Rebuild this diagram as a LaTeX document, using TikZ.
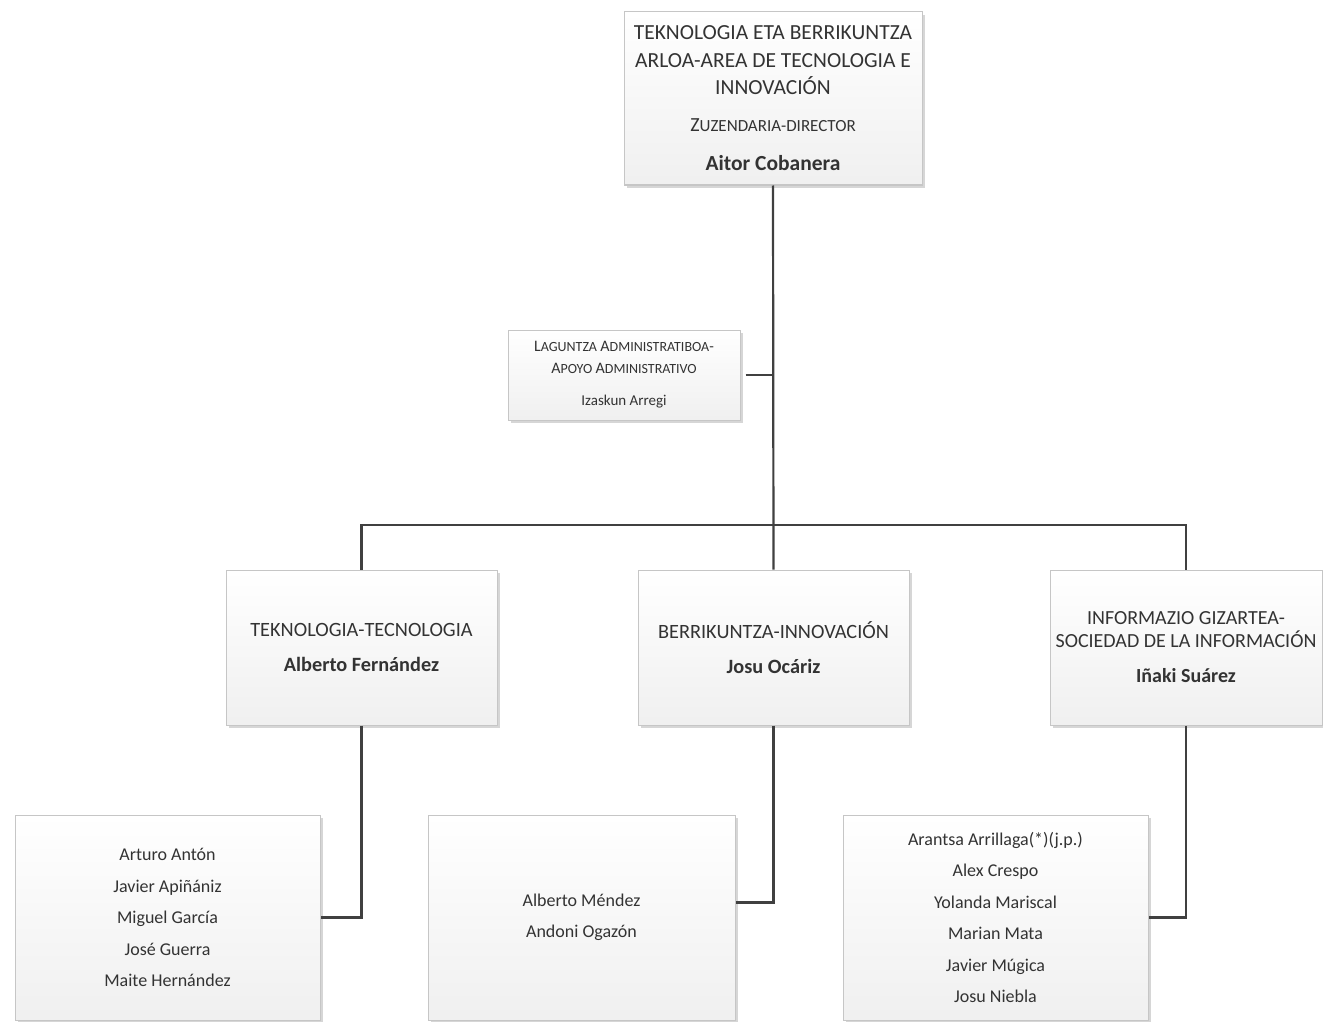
\documentclass[tikz,border=0pt]{standalone}
\usepackage{fontspec}
\setmainfont{Carlito}
\usetikzlibrary{shadows}
% small-caps imitation: #1 size of capital, #2 size of rest, #3 capital, #4 rest
\newcommand\scx[4]{{\fontsize{#1}{#1}\selectfont #3}{\fontsize{#2}{#2}\selectfont #4}}
\tikzset{
  orgbox/.style={draw=gray!45, line width=1pt, top color=white, bottom color=gray!12,
    drop shadow={shadow xshift=3pt, shadow yshift=-3pt, fill=gray!45, opacity=0.7},
    align=center, inner sep=2pt, text=black!80},
  conn/.style={draw=black!75, line width=2.2pt}
}
\begin{document}
\begin{tikzpicture}[x=1pt,y=-1pt]
\useasboundingbox[fill=white] (0,0) rectangle (1323,1022);
\node[orgbox, minimum width=298pt, minimum height=173pt,
  font=\fontsize{21.5}{27.5}\selectfont] (top) at (773,98.5)
  {TEKNOLOGIA ETA BERRIKUNTZA\\ARLOA-AREA DE TECNOLOGIA E\\INNOVACIÓN\\[9pt]
   \scx{20}{17}{Z}{UZENDARIA-DIRECTOR}\\[12pt]
   \textbf{Aitor Cobanera}};
\node[orgbox, minimum width=232pt, minimum height=90pt,
  font=\fontsize{15}{22}\selectfont] (admin) at (624,375)
  {\scx{16}{14}{L}{AGUNTZA} \scx{16}{14}{A}{DMINISTRATIBOA}-\\\scx{16}{14}{A}{POYO} \scx{16}{14}{A}{DMINISTRATIVO}\\[10pt]
   Izaskun Arregi};
\node[orgbox, minimum width=271pt, minimum height=155pt,
  font=\fontsize{20.3}{35}\selectfont] (tek) at (361.5,647.5)
  {TEKNOLOGIA-TECNOLOGIA\\\textbf{Alberto Fernández}};
\node[orgbox, minimum width=271pt, minimum height=155pt,
  font=\fontsize{20.3}{35}\selectfont] (inn) at (773.5,647.5)
  {BERRIKUNTZA-INNOVACIÓN\\\textbf{Josu Ocáriz}};
\node[orgbox, minimum width=272pt, minimum height=155pt,
  font=\fontsize{20}{23}\selectfont] (info) at (1186,647.5)
  {INFORMAZIO GIZARTEA-\\SOCIEDAD DE LA INFORMACIÓN\\[12pt]\textbf{Iñaki Suárez}};
\node[orgbox, minimum width=305pt, minimum height=205pt,
  font=\fontsize{18}{31.5}\selectfont] (l1) at (167.5,917.5)
  {Arturo Antón\\Javier Apiñániz\\Miguel García\\José Guerra\\Maite Hernández};
\node[orgbox, minimum width=307pt, minimum height=205pt,
  font=\fontsize{18}{31.5}\selectfont] (l2) at (581.5,917.5)
  {Alberto Méndez\\Andoni Ogazón};
\node[orgbox, minimum width=305pt, minimum height=205pt,
  font=\fontsize{18}{31.5}\selectfont] (l3) at (995.5,917.5)
  {Arantsa Arrillaga(*)(j.p.)\\Alex Crespo\\Yolanda Mariscal\\Marian Mata\\Javier Múgica\\Josu Niebla};
\coordinate (hb) at (773.5,525);
\draw[conn] (top.south) -- (inn.north);
\draw[conn] (tek.north) |- (hb) -| (info.north);
\draw[conn] ([xshift=5pt]admin.east) -- (admin.east -| top.south);
\draw[conn] (tek.south) |- (l1.east);
\draw[conn] (inn.south) |- ([yshift=15pt]l2.east);
\draw[conn] (info.south) |- (l3.east);
\end{tikzpicture}
\end{document}
